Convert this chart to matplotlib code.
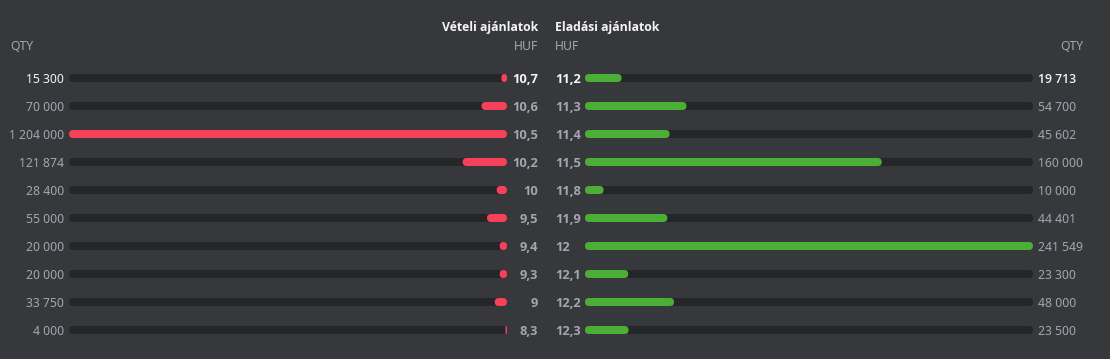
import matplotlib
matplotlib.use("Agg")
import matplotlib.pyplot as plt
from matplotlib.patches import FancyBboxPatch

# ---- data ----
buy_price = [10.7, 10.6, 10.5, 10.2, 10, 9.5, 9.4, 9.3, 9, 8.3]
buy_qty = [15300, 70000, 1204000, 121874, 28400, 55000, 20000, 20000, 33750, 4000]
sell_price = [11.2, 11.3, 11.4, 11.5, 11.8, 11.9, 12, 12.1, 12.2, 12.3]
sell_qty = [19713, 54700, 45602, 160000, 10000, 44401, 241549, 23300, 48000, 23500]
buy_title = "Vételi ajánlatok"
sell_title = "Eladási ajánlatok"
qty_label = "QTY"
price_label = "HUF"

# ---- style ----
W, H, DPI = 1110, 359, 100
BG = "#37383c"
TRACK = "#252628"
RED = "#f7405a"
GREEN = "#4caf35"
GREY = "#a3a6ae"
WHITE = "#f4f4f4"
FONT = ["Noto Sans", "DejaVu Sans"]
BOLD_FONT = ["Open Sans", "DejaVu Sans"]
FS = 8.8
BFS = 9.3
TFS = 8.8
BAR_PX = 8

plt.rcParams['font.family'] = FONT

fig = plt.figure(figsize=(W / DPI, H / DPI), dpi=DPI, facecolor=BG)

def fx(px):
    return px / W

def fy(py):
    return 1 - py / H

n = len(buy_qty)
row0, step = 78, 28
top = row0 - step / 2
bot = top + step * n

def make_ax(x0, x1):
    ax = fig.add_axes([fx(x0), fy(bot), fx(x1) - fx(x0), (bot - top) / H])
    ax.set_facecolor("none")
    ax.set_ylim(n - 0.5, -0.5)
    ax.axis("off")
    return ax

axL = make_ax(69, 507)
axR = make_ax(585, 1033)

def draw_side(ax, qtys, color, width_px, invert):
    vmax = max(qtys)
    if invert:
        ax.set_xlim(vmax, 0)
    else:
        ax.set_xlim(0, vmax)
    rx = (BAR_PX / 2) * vmax / width_px          # radius in x data units
    h = BAR_PX / step                              # bar height in row units
    ry = h / 2
    aspect = ry / rx
    for i, q in enumerate(qtys):
        track = FancyBboxPatch((0, i - h / 2), vmax, h,
                               boxstyle=f"round,pad=0,rounding_size={rx}",
                               mutation_aspect=aspect, fc=TRACK, ec="none")
        ax.add_patch(track)
        r = min(rx, q / 2)
        bar = FancyBboxPatch((0, i - h / 2), q, h,
                             boxstyle=f"round,pad=0,rounding_size={r}",
                             mutation_aspect=aspect, fc=color, ec="none")
        ax.add_patch(bar)

draw_side(axL, buy_qty, RED, 438, True)
draw_side(axR, sell_qty, GREEN, 448, False)

def fmt_qty(q):
    return f"{q:,}".replace(",", " ")

def fmt_price(p):
    return f"{p:g}".replace(".", ",")

DY = 1.2  # small downward shift of text baseline centre in px
for i in range(n):
    col = WHITE if i == 0 else GREY
    y = fy(row0 + step * i + DY)
    fig.text(fx(64), y, fmt_qty(buy_qty[i]), ha="right", va="center",
             color=col, fontsize=FS)
    fig.text(fx(538), y, fmt_price(buy_price[i]), ha="right", va="center",
             color=col, fontsize=BFS, fontweight="bold", family=BOLD_FONT)
    fig.text(fx(555), y, fmt_price(sell_price[i]), ha="left", va="center",
             color=col, fontsize=BFS, fontweight="bold", family=BOLD_FONT)
    fig.text(fx(1038), y, fmt_qty(sell_qty[i]), ha="left", va="center",
             color=col, fontsize=FS, fontweight="semibold" if i == 0 else "normal",
             family=BOLD_FONT if i == 0 else FONT)

# headers
fig.text(fx(538), fy(27), buy_title, ha="right", va="center", color=WHITE,
         fontsize=TFS, fontweight="bold", family=BOLD_FONT)
fig.text(fx(555), fy(27), sell_title, ha="left", va="center", color=WHITE,
         fontsize=TFS, fontweight="bold", family=BOLD_FONT)
fig.text(fx(10), fy(47), qty_label, ha="left", va="center", color=GREY, fontsize=FS)
fig.text(fx(538), fy(47), price_label, ha="right", va="center", color=GREY, fontsize=FS)
fig.text(fx(555), fy(47), price_label, ha="left", va="center", color=GREY, fontsize=FS)
fig.text(fx(1083), fy(47), qty_label, ha="right", va="center", color=GREY, fontsize=FS)

fig.savefig("out.png", dpi=DPI, facecolor=BG)
